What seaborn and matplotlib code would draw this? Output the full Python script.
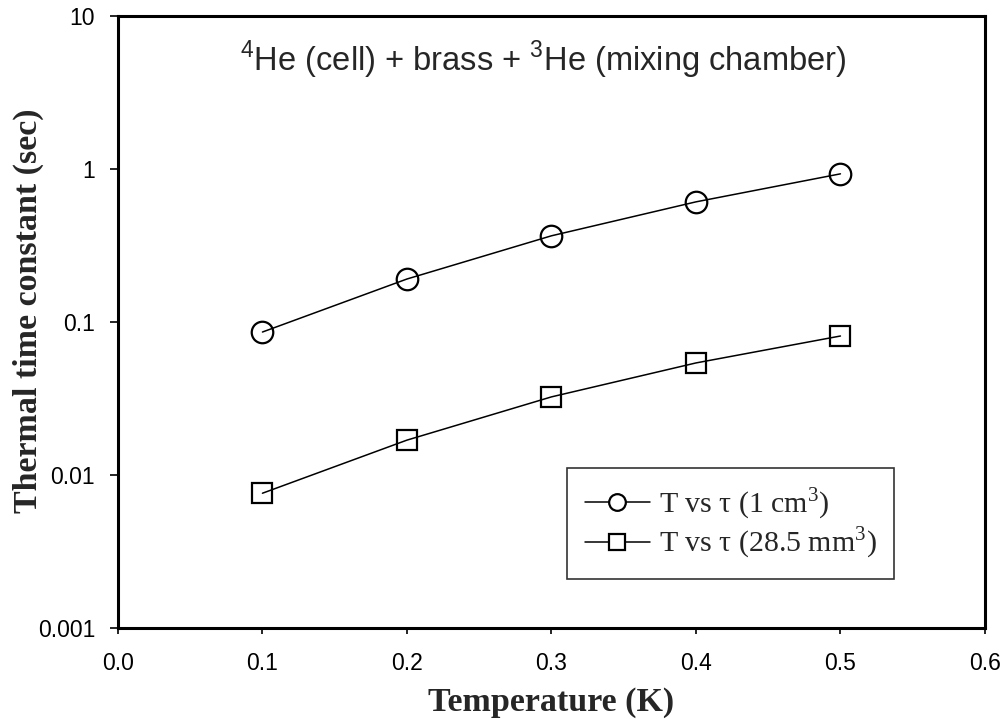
import numpy as np
import pandas as pd
import matplotlib
matplotlib.use("Agg")
import matplotlib.pyplot as plt
import seaborn as sns
from matplotlib.ticker import FixedLocator, NullLocator

temperature = [0.1, 0.2, 0.3, 0.4, 0.5]
tau_1cm3 = [0.086, 0.191, 0.366, 0.61, 0.93]
tau_28mm3 = [0.0076, 0.0169, 0.0324, 0.054, 0.081]
series_names = [r"T vs $\mathrm{\tau}$ (1 cm$^3$)", r"T vs $\mathrm{\tau}$ (28.5 mm$^3$)"]
xticks = [0.0, 0.1, 0.2, 0.3, 0.4, 0.5, 0.6]
yticks = [0.001, 0.01, 0.1, 1, 10]
ytick_labels = ["0.001", "0.01", "0.1", "1", "10"]

df = pd.DataFrame({
    "T": temperature * 2,
    "tau": tau_1cm3 + tau_28mm3,
    "series": [series_names[0]] * 5 + [series_names[1]] * 5,
})

sns.set_theme(style="white")
plt.rcParams["font.family"] = ["Liberation Sans", "DejaVu Sans"]
plt.rcParams["mathtext.fontset"] = "custom"
plt.rcParams["mathtext.rm"] = "Liberation Serif"
plt.rcParams["mathtext.sf"] = "Liberation Sans"

fig = plt.figure(figsize=(10.03, 7.19), dpi=100)
ax = fig.add_axes([0.1176, 0.1266, 0.982 - 0.1176, 0.9777 - 0.1266])

sns.lineplot(data=df, x="T", y="tau", hue="series", style="series",
             markers=["o", "s"], dashes=False, palette=["black", "black"],
             ax=ax, legend=True)
ms = {0: 15.5, 1: 14}
for i, line in enumerate(ax.get_lines()[:2]):
    line.set_markersize(ms[i])
    line.set_markerfacecolor("none")
    line.set_markeredgecolor("black")
    line.set_markeredgewidth(1.6)
    line.set_linewidth(1.1)

ax.set_yscale("log")
ax.set_xlim(0.0, 0.6)
ax.set_ylim(0.001, 10)
ax.yaxis.set_major_locator(FixedLocator(yticks))
ax.yaxis.set_minor_locator(NullLocator())
ax.set_yticklabels(ytick_labels)
ax.set_xticks(xticks)
ax.set_xticklabels([f"{v:.1f}" for v in xticks])

for s in ax.spines.values():
    s.set_linewidth(2.2)
    s.set_color("black")
ax.tick_params(axis="both", which="major", direction="out", width=1.2,
               labelsize=16.5, colors="black", bottom=True, left=True)
ax.tick_params(axis="x", length=4.5, pad=13)
ax.tick_params(axis="y", length=5.5, pad=11)

ax.set_xlabel("Temperature (K)", fontsize=24.5, fontweight="bold",
              family="Liberation Serif")
ax.set_ylabel("Thermal time constant (sec)", fontsize=24.5, fontweight="bold",
              family="Liberation Serif")
ax.xaxis.set_label_coords(0.5, -0.097)
ax.yaxis.set_label_coords(-0.085, 0.518)

ax.text(0.49, 0.91, r"$^{\mathsf{4}}$He (cell) + brass + $^{\mathsf{3}}$He (mixing chamber)",
        transform=ax.transAxes, ha="center", va="baseline", fontsize=23.5)

handles, labels = ax.get_legend_handles_labels()
for i, h in enumerate(handles):
    h.set_markerfacecolor("white")
    h.set_markeredgecolor("black")
    h.set_markersize(12)
    h.set_markeredgewidth(1.6)
    h.set_linewidth(1.1)
leg = ax.legend(handles, labels, loc="lower left", bbox_to_anchor=(0.518, 0.08),
                prop={"family": "Liberation Serif", "size": 21.5}, frameon=True,
                fancybox=False, edgecolor="black", handlelength=2.17,
                borderpad=0.6, labelspacing=0.1, handletextpad=0.3,
                borderaxespad=0)
leg.get_frame().set_linewidth(1.2)

fig.savefig("out.png", dpi=100)
